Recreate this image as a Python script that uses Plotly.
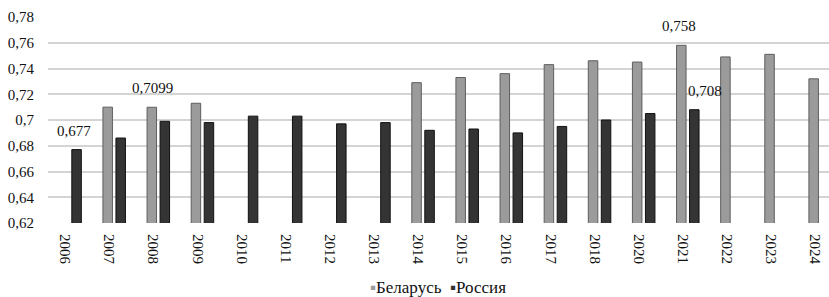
import plotly.graph_objects as go

years = ["2006", "2007", "2008", "2009", "2010", "2011", "2012", "2013", "2014",
         "2015", "2016", "2017", "2018", "2020", "2021", "2022", "2023", "2024"]
belarus = [None, 0.710, 0.7099, 0.713, None, None, None, None, 0.729,
           0.733, 0.736, 0.743, 0.746, 0.745, 0.758, 0.749, 0.751, 0.732]
russia = [0.677, 0.686, 0.699, 0.698, 0.703, 0.703, 0.697, 0.698, 0.692,
          0.693, 0.690, 0.695, 0.700, 0.705, 0.708, None, None, None]
ytick_vals = [0.62, 0.64, 0.66, 0.68, 0.70, 0.72, 0.74, 0.76, 0.78]
ytick_text = ["0,62", "0,64", "0,66", "0,68", "0,7", "0,72", "0,74", "0,76", "0,78"]
series_names = ["Беларусь", "Россия"]
series_colors = ["#9b9b9b", "#343434"]
series_lines = ["#5e5e5e", "#111111"]
# labelled points: (series, year, x-offset in category units)
labels = [("russia", "2006", 0.10), ("belarus", "2008", -0.14),
          ("belarus", "2021", -0.19), ("russia", "2021", 0.38)]

FONT = "Liberation Serif"

fig = go.Figure()
for name, vals, col, lc in zip(series_names, [belarus, russia], series_colors, series_lines):
    fig.add_trace(go.Bar(name=name, x=years, y=vals, showlegend=False,
                         marker=dict(color=col, line=dict(color=lc, width=1))))

series = {"belarus": belarus, "russia": russia}
for name, yr, off in labels:
    i = years.index(yr)
    v = series[name][i]
    fig.add_annotation(x=i + off, y=v, xref="x", yref="y",
                       text=str(v).replace(".", ","), showarrow=False,
                       yanchor="middle", yshift=19,
                       font=dict(family=FONT, size=15, color="#111"))

# compact legend (coloured square glyph directly before each name)
legend_text = "  ".join(
    f'<span style="color:{c}">▪</span>{n}' for n, c in zip(series_names, series_colors))
fig.add_annotation(x=0.4994, y=-0.314, xref="paper", yref="paper",
                   xanchor="center", yanchor="middle", showarrow=False,
                   text=legend_text, font=dict(family=FONT, size=17, color="#111"))

fig.update_layout(
    width=829, height=297,
    margin=dict(l=48, r=0, t=17, b=74, autoexpand=False),
    paper_bgcolor="white", plot_bgcolor="white",
    barmode="group", bargap=0.41, bargroupgap=0.27,
    font=dict(family=FONT, size=15, color="#111"),
    showlegend=False,
    xaxis=dict(type="category", range=[-0.5, 17.2], tickangle=90,
               showline=False, showgrid=False, ticks="", automargin=False,
               ticklabelstandoff=10, ticklabelshift=-5, ticklabeloverflow="allow",
               tickfont=dict(family=FONT, size=15)),
    yaxis=dict(range=[0.62, 0.78], tickvals=ytick_vals, ticktext=ytick_text,
               showgrid=True, gridcolor="#d4d4d4", gridwidth=1.5, automargin=False,
               zeroline=False, showline=False, ticks="outside", ticklen=10,
               tickcolor="rgba(0,0,0,0)", tickfont=dict(family=FONT, size=15)),
)

fig.write_html("out.html", config={"displayModeBar": False},
               post_script="document.body.style.margin='0';document.body.style.overflow='hidden';")
